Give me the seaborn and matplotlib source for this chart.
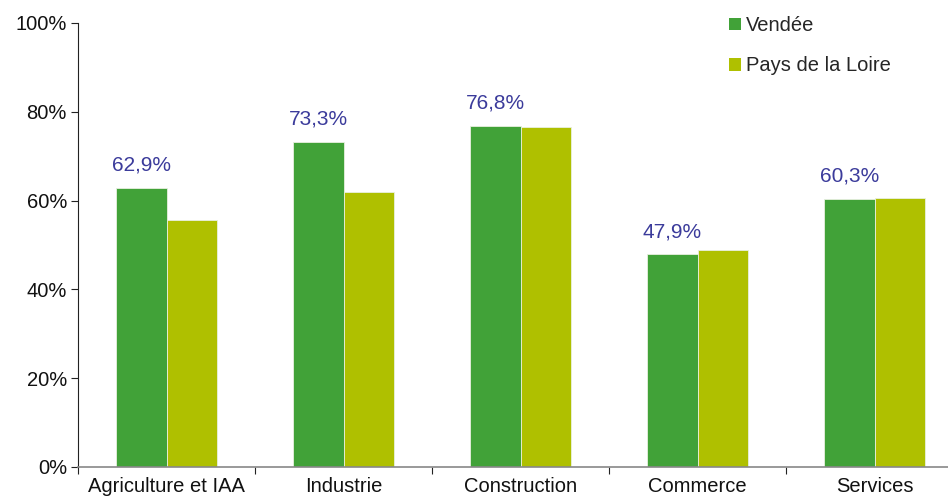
import matplotlib
matplotlib.use("Agg")
import matplotlib.pyplot as plt
import seaborn as sns
import pandas as pd
from matplotlib.patches import Patch
from matplotlib.ticker import FixedLocator

categories = ["Agriculture et IAA", "Industrie", "Construction", "Commerce", "Services"]
vendee = [62.9, 73.3, 76.8, 47.9, 60.3]
pays_loire = [55.6, 62.0, 76.6, 48.9, 60.6]
series_names = ["Vendée", "Pays de la Loire"]
vendee_labels = ["62,9%", "73,3%", "76,8%", "47,9%", "60,3%"]
ytick_labels = ["0%", "20%", "40%", "60%", "80%", "100%"]

colors = ["#41a238", "#afc000"]
label_color = "#3b3b9b"

df = pd.DataFrame({
    "cat": categories * 2,
    "val": vendee + pays_loire,
    "serie": [series_names[0]] * len(categories) + [series_names[1]] * len(categories),
})

sns.set_theme(style="white")
plt.rcParams["font.family"] = ["Liberation Sans", "DejaVu Sans"]

fig = plt.figure(figsize=(9.48, 4.99), dpi=100)
ax = fig.add_axes([78 / 948, 1 - 467 / 499, 1 - 78 / 948, (467 - 23) / 499])

sns.barplot(data=df, x="cat", y="val", hue="serie", order=categories,
            hue_order=series_names, palette=colors, width=0.57, saturation=1,
            edgecolor="#e8f0e0", linewidth=0.6, ax=ax, legend=False)

ax.set_ylim(0, 100)
ax.set_xlim(-0.5, 4.415)
ax.set_yticks([0, 20, 40, 60, 80, 100])
ax.set_yticklabels(ytick_labels, fontsize=14.5, color="#111111")
ax.tick_params(axis="y", direction="out", length=5, width=0.8, color="#222222", left=True, pad=3)

# category boundaries as major ticks, labels on minor ticks
ax.xaxis.set_major_locator(FixedLocator([-0.5, 0.5, 1.5, 2.5, 3.5]))
ax.set_xticklabels([""] * 5)
ax.xaxis.set_minor_locator(FixedLocator(list(range(len(categories)))))
ax.set_xticklabels(categories, minor=True, fontsize=14.5, color="#111111")
ax.tick_params(axis="x", which="major", direction="out", length=5, width=0.8, color="#222222", bottom=True)
ax.tick_params(axis="x", which="minor", length=0, pad=7)
ax.set_xlabel("")
ax.set_ylabel("")

for s in ["top", "right"]:
    ax.spines[s].set_visible(False)
ax.spines["left"].set_color("#222222")
ax.spines["left"].set_linewidth(0.8)
ax.spines["bottom"].set_color("#888888")
ax.spines["bottom"].set_linewidth(1.2)

bar_w = 0.57 / 2
for i, (v, lab) in enumerate(zip(vendee, vendee_labels)):
    ax.text(i - bar_w / 2, v + 3.0, lab, ha="center", va="bottom",
            fontsize=15, color=label_color)

handles = [Patch(facecolor=c, edgecolor="none") for c in colors]
leg = fig.legend(handles, series_names, loc="upper left",
                 bbox_to_anchor=(711 / 948, 1 + 2 / 499), frameon=False,
                 fontsize=14.5, handlelength=0.6, handleheight=0.6,
                 handletextpad=0.25, labelspacing=1.05)

fig.savefig("out.png", dpi=100)
